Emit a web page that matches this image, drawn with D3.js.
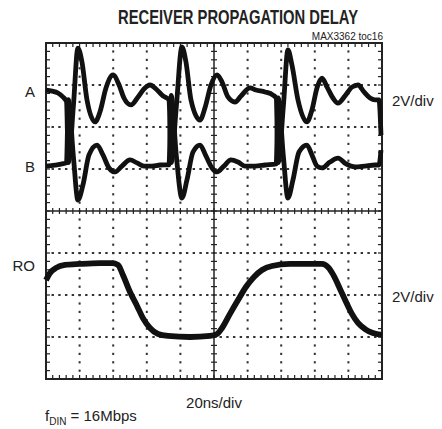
<!DOCTYPE html>
<html>
<head>
<meta charset="utf-8">
<script src="https://cdn.jsdelivr.net/npm/d3@7"></script>
<style>
  body { margin: 0; background: #fff; }
  text { font-family: Arial, "Liberation Sans", sans-serif; fill: #222; }
</style>
</head>
<body>
<div id="chart"></div>
<script>
"use strict";

// time in ns, voltage in V (2V/div, 20ns/div)
const traceA = [
  [0, 5.76], [3.6, 5.71], [7.1, 5.62], [10.1, 5.43], [12.2, 5.2], [13.3, 2.3], [16.3, 5.0],
  [19.0, 7.76], [21.4, 7.10], [24.4, 5.29], [29.2, 4.24], [32.1, 4.71], [35.7, 5.86],
  [39.9, 6.48], [43.5, 6.00], [46.4, 5.38], [50.6, 5.05], [54.8, 5.43], [58.3, 5.81], [61.9, 6.00],
  [65.5, 5.81], [69.6, 5.48], [73.2, 5.3], [74.5, 2.3], [77.6, 5.0], [80.9, 7.81],
  [83.3, 7.10], [86.3, 5.29], [91.7, 4.33], [94.6, 4.90], [98.2, 6.00], [101.8, 6.48], [104.8, 6.14],
  [108.3, 5.43], [112.5, 5.19], [116.1, 5.48], [121.4, 5.86], [125.0, 5.76], [130.4, 5.67],
  [135.1, 5.52], [137.0, 5.38], [138.2, 2.3], [141.3, 5.0], [144.0, 7.67],
  [146.4, 6.95], [150.0, 5.29], [155.3, 4.24], [158.3, 4.81], [161.3, 5.86], [164.3, 6.33],
  [167.3, 5.90], [170.8, 5.38], [173.8, 5.14], [178.0, 5.48], [182.1, 5.90], [185.7, 6.00],
  [189.3, 5.67], [192.9, 5.38], [195.8, 5.29], [198.2, 5.29], [199.4, 3.62]
];
const traceB = [
  [0, 2.14], [5.4, 2.19], [9.5, 2.24], [12.2, 2.3], [13.3, 5.3], [16.3, 2.6],
  [19.0, 0.52], [22.0, 1.24], [25.6, 2.67], [30.4, 3.14], [33.9, 2.67], [37.5, 2.05], [41.1, 1.86],
  [45.2, 2.14], [50.0, 2.43], [54.2, 2.29], [58.3, 2.14], [63.1, 2.14], [67.9, 2.19], [73.2, 2.2],
  [74.5, 5.5], [77.6, 2.6], [80.9, 0.62], [83.9, 1.48], [87.5, 2.81], [91.7, 3.14],
  [95.2, 2.62], [98.8, 2.05], [101.8, 1.86], [105.9, 2.14], [110.1, 2.43], [114.3, 2.33],
  [118.4, 2.14], [124.4, 2.14], [130.4, 2.19], [137.0, 2.24], [138.2, 5.38],
  [141.3, 2.6], [144.0, 0.62], [147.0, 1.48], [150.6, 2.81], [155.3, 3.14], [158.3, 2.67],
  [161.3, 2.14], [164.3, 2.05], [169.0, 2.33], [173.8, 2.52], [178.6, 2.24], [183.9, 2.10],
  [189.9, 2.14], [195.8, 2.19], [198.2, 2.19], [199.4, 2.90]
];
const traceRO = [
  [0, -3.29], [2.4, -2.95], [6.0, -2.71], [11.3, -2.57], [20.2, -2.52], [32.1, -2.48], [39.3, -2.48],
  [42.9, -2.57], [45.8, -3.05], [50.0, -3.86], [54.2, -4.52], [57.7, -5.10], [61.9, -5.57],
  [66.7, -5.86], [72.6, -5.95], [85.7, -6.00], [97.6, -5.95], [101.8, -5.86], [104.8, -5.57],
  [109.5, -4.90], [114.3, -4.24], [119.0, -3.62], [123.8, -3.14], [128.6, -2.81], [134.5, -2.62],
  [145.2, -2.52], [157.1, -2.52], [164.3, -2.52], [167.8, -2.67], [171.4, -3.10], [175.0, -3.71],
  [178.6, -4.33], [182.1, -4.90], [185.7, -5.33], [189.9, -5.62], [194.6, -5.81], [200, -5.90]
];

const xDivs = d3.range(0, 201, 20);
const yDivs = d3.range(-8, 9, 2);
const channelLabels = [["A", 5.67], ["B", 2.1], ["RO", -2.6]];
const scaleLabels = [["2V/div", 5.25], ["2V/div", -4.1]];

const msm = { width: 442, height: 429, left: 46, top: 43, plotW: 336, plotH: 336 };

const svg = d3.select("#chart").append("svg")
  .attr("width", msm.width)
  .attr("height", msm.height);

const x = d3.scaleLinear().domain([0, 200]).range([msm.left, msm.left + msm.plotW]);
const y = d3.scaleLinear().domain([-8, 8]).range([msm.top + msm.plotH, msm.top]);

const minorX = d3.range(0, 200.01, 4);
const minorY = d3.range(-8, 8.01, 0.4);

// dotted graticule
const grid = svg.append("g").attr("fill", "#333");
xDivs.slice(1, -1).filter(d => d !== 100).forEach(xv => {
  grid.selectAll(null).data(minorY.slice(1, -1)).enter().append("rect")
    .attr("x", x(xv) - 1).attr("y", d => y(d) - 1).attr("width", 2).attr("height", 2.2);
});
yDivs.slice(1, -1).filter(d => d !== 0).forEach(yv => {
  grid.selectAll(null).data(minorX.slice(1, -1)).enter().append("rect")
    .attr("x", d => x(d) - 1.2).attr("y", y(yv) - 1).attr("width", 2.4).attr("height", 2);
});

// center axes with tick marks
const axes = svg.append("g").attr("stroke", "#222");
axes.append("line").attr("x1", x(0)).attr("x2", x(200)).attr("y1", y(0)).attr("y2", y(0)).attr("stroke-width", 1.5);
axes.append("line").attr("x1", x(100)).attr("x2", x(100)).attr("y1", y(-8)).attr("y2", y(8)).attr("stroke-width", 1.5);
axes.selectAll(null).data(minorX).enter().append("line")
  .attr("x1", d => x(d)).attr("x2", d => x(d))
  .attr("y1", y(0) - 3).attr("y2", y(0) + 3).attr("stroke-width", 1.2);
axes.selectAll(null).data(minorY).enter().append("line")
  .attr("y1", d => y(d)).attr("y2", d => y(d))
  .attr("x1", x(100) - 3).attr("x2", x(100) + 3).attr("stroke-width", 1.2);

// frame ticks pointing inward
axes.selectAll(null).data(minorX).enter().append("line")
  .attr("x1", d => x(d)).attr("x2", d => x(d))
  .attr("y1", y(8)).attr("y2", y(8) + 4).attr("stroke-width", 1.2);
axes.selectAll(null).data(minorX).enter().append("line")
  .attr("x1", d => x(d)).attr("x2", d => x(d))
  .attr("y1", y(-8)).attr("y2", y(-8) - 4).attr("stroke-width", 1.2);
axes.selectAll(null).data(minorY).enter().append("line")
  .attr("y1", d => y(d)).attr("y2", d => y(d))
  .attr("x1", x(0)).attr("x2", x(0) + 4).attr("stroke-width", 1.2);
axes.selectAll(null).data(minorY).enter().append("line")
  .attr("y1", d => y(d)).attr("y2", d => y(d))
  .attr("x1", x(200)).attr("x2", x(200) - 4).attr("stroke-width", 1.2);

svg.append("rect")
  .attr("x", x(0)).attr("y", y(8))
  .attr("width", x(200) - x(0)).attr("height", y(-8) - y(8))
  .attr("fill", "none").attr("stroke", "#222").attr("stroke-width", 2);

// traces
const line = d3.line()
  .x(d => x(d[0]))
  .y(d => y(d[1]))
  .curve(d3.curveMonotoneX);

[[traceA, 4.8], [traceB, 4.8], [traceRO, 5.8]].forEach(([data, w]) => {
  svg.append("path")
    .datum(data)
    .attr("fill", "none")
    .attr("stroke", "#111")
    .attr("stroke-width", w)
    .attr("stroke-linejoin", "round")
    .attr("d", line);
});

// labels
svg.append("text")
  .attr("x", 238).attr("y", 24)
  .attr("text-anchor", "middle")
  .attr("textLength", 240).attr("lengthAdjust", "spacingAndGlyphs")
  .style("font-size", "20px").style("font-weight", "bold")
  .text("RECEIVER PROPAGATION DELAY");

svg.append("text")
  .attr("x", 383).attr("y", 40)
  .attr("text-anchor", "end")
  .style("font-size", "10px")
  .text("MAX3362 toc16");

svg.selectAll(null).data(channelLabels).enter().append("text")
  .attr("x", 35).attr("y", d => y(d[1]))
  .attr("dy", "0.35em")
  .attr("text-anchor", "end")
  .style("font-size", "15px")
  .text(d => d[0]);

svg.selectAll(null).data(scaleLabels).enter().append("text")
  .attr("x", 392).attr("y", d => y(d[1]))
  .attr("dy", "0.35em")
  .style("font-size", "15px")
  .text(d => d[0]);

svg.append("text")
  .attr("x", x(100)).attr("y", 408)
  .attr("text-anchor", "middle")
  .style("font-size", "15px")
  .text("20ns/div");

const fdin = svg.append("text")
  .attr("x", 45).attr("y", 421)
  .style("font-size", "15px");
fdin.append("tspan").text("f");
fdin.append("tspan").attr("dy", 4).style("font-size", "10px").text("DIN");
fdin.append("tspan").attr("dy", -4).text(" = 16Mbps");
</script>
</body>
</html>
